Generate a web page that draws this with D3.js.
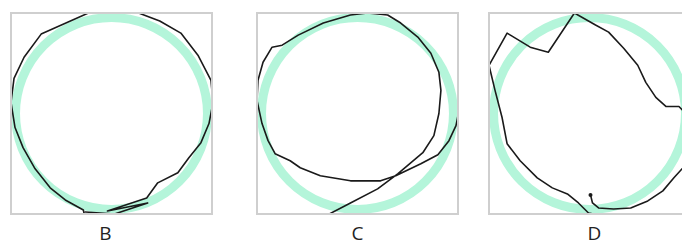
<!DOCTYPE html>
<html lang="en">
<head>
<meta charset="UTF-8">
<title>Drawn circles B C D</title>
<script src="https://d3js.org/d3.v7.min.js"></script>
<style>
    body{ margin:0; background:#fff; }
    .frame{ fill:none; stroke:#cfcfcf; stroke-width:2; }
    .guide{ fill:none; stroke:#b4f5da; }
    .trace{ fill:none; stroke:#1a1a1a; stroke-width:1.6; stroke-linejoin:round; stroke-linecap:round; }
    .label{ font-family:"Open Sans", sans-serif; font-size:19px; fill:#222; text-anchor:middle; }
</style>
</head>
<body>
<svg width="682" height="246"></svg>
<script>
    // panel names
    const labels = ["B", "C", "D"]

    // traced strokes, in the panel's own 0..200 units (y down)
    const traceB = [[73,201],[72,196],[54,186],[39,174],[24,155],[12,134],[4,114],[0,89],[3,65],[13,44],[30,21],
        [77,0],[127,0],[148,8],[169,20],[186,42],[199,67],[201,89],[197,110],[189,129],[177,144],[166,159],
        [146,169],[135,184],[96,197],[136,189],[103,200],[74,198]]
    const traceC = [[70,201],[93,189],[120,175],[140,160],[165,139],[176,122],[181,100],[183,77],[181,59],[173,40],
        [160,24],[143,10],[130,2],[110,0],[93,2],[66,10],[41,22],[25,32],[15,34],[6,49],[1,67],[0,87],[5,110],
        [11,127],[18,140],[33,147],[43,154],[63,162],[93,167],[123,167],[138,162],[163,150],[180,141],[191,127],
        [198,112],[200,102],[200,84]]
    const traceD = [[101,181],[103,189],[109,194],[124,195],[141,194],[158,187],[173,177],[184,164],[193,154],
        [199,140],[201,110],[193,97],[189,93],[176,93],[166,84],[156,69],[148,52],[134,35],[119,19],[106,12],
        [85,0],[59,39],[41,34],[18,20],[0,52],[6,77],[13,104],[18,130],[31,147],[48,164],[63,174],[78,180],
        [89,189],[99,199],[109,201]]
    const traces = [traceB, traceC, traceD]

    // target circle (same units)
    const guideCenter = [100, 100]
    const guideRadius = 95.5

    // layout
    const svg = d3.select("svg")
    const size = 201
    const topY = 13
    const lefts = [11, 257, 489]
    const labelShift = [-6, 0, 5]

    const x = d3.scaleLinear().domain([0, 200]).range([0, size])
    const y = d3.scaleLinear().domain([0, 200]).range([0, size])
    const line = d3.line().x(d => x(d[0])).y(d => y(d[1]))

    const panels = svg.selectAll(".panel")
        .data(labels)
        .enter()
        .append("g")
        .attr("class", "panel")
        .attr("transform", (d, i) => `translate(${lefts[i]},${topY})`)

    panels.append("clipPath")
        .attr("id", (d, i) => "clip" + i)
        .append("rect")
        .attr("width", size)
        .attr("height", size)

    panels.append("circle")
        .attr("class", "guide")
        .attr("cx", x(guideCenter[0]))
        .attr("cy", y(guideCenter[1]))
        .attr("r", x(guideRadius) - x(0))
        .attr("stroke-width", 9)
        .attr("clip-path", (d, i) => `url(#clip${i})`)

    panels.append("path")
        .attr("class", "trace")
        .attr("d", (d, i) => line(traces[i]))
        .attr("clip-path", (d, i) => `url(#clip${i})`)

    // start dot on D
    panels.filter(d => d === "D")
        .append("circle")
        .attr("cx", x(traceD[0][0]))
        .attr("cy", y(traceD[0][1]))
        .attr("r", 2)
        .attr("fill", "#1a1a1a")

    panels.append("rect")
        .attr("class", "frame")
        .attr("width", size)
        .attr("height", size)

    panels.append("text")
        .attr("class", "label")
        .attr("x", (d, i) => size / 2 + labelShift[i])
        .attr("y", 240 - topY)
        .text(d => d)
</script>
</body>
</html>
